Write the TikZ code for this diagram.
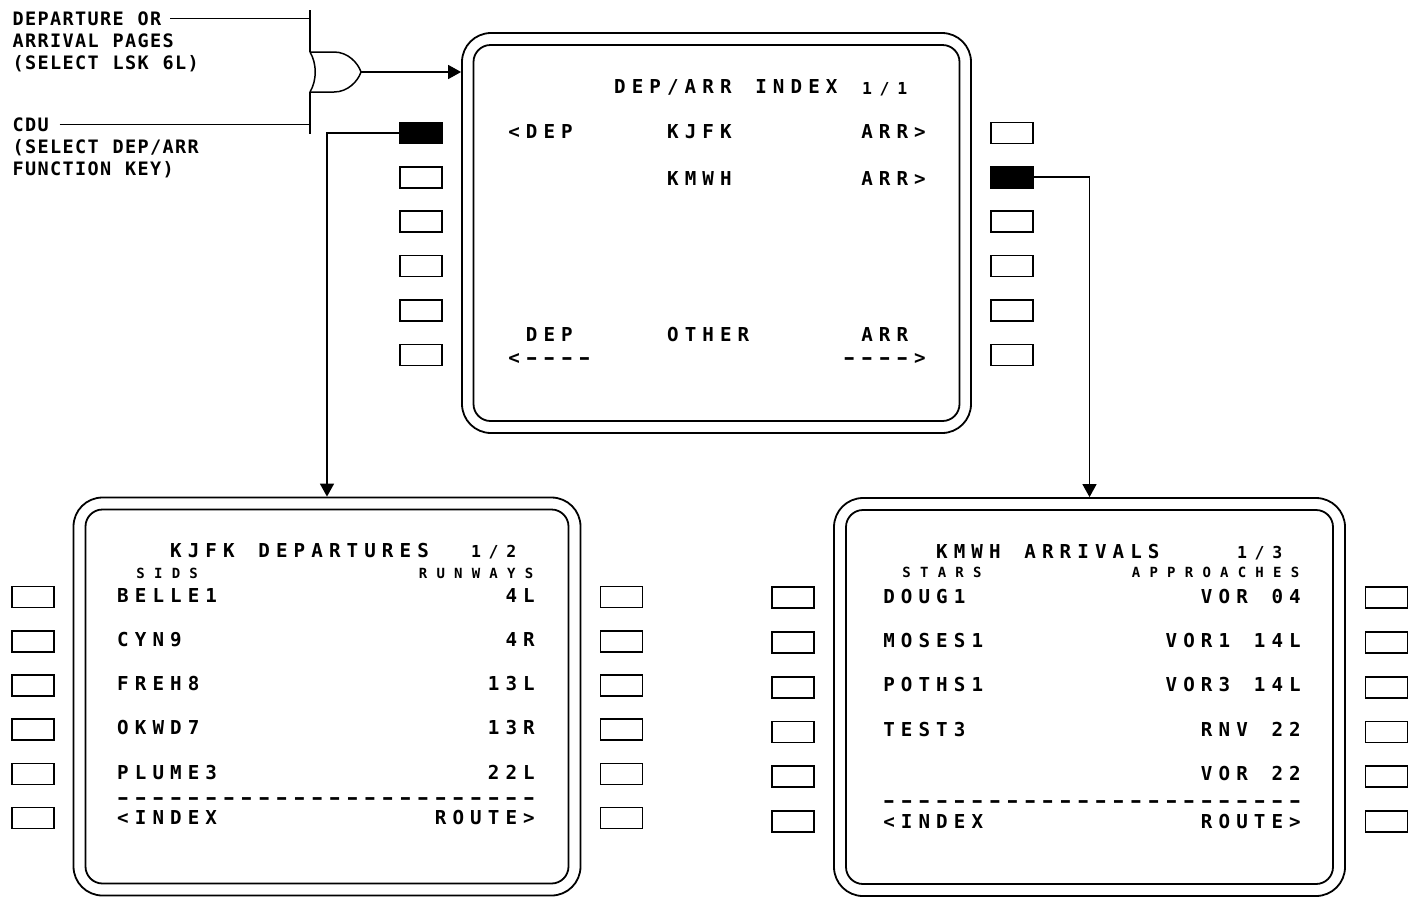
\documentclass[tikz,border=0pt]{standalone}
\usepackage{fontspec}
\usepackage{graphicx}
\newfontfamily\cdufont{DejaVu Sans Mono}
\usetikzlibrary{arrows.meta}
\newlength\cdupitch
\makeatletter
\def\cdustr#1{\cdu@loop#1\relax}
\def\cdu@loop#1{\ifx\relax#1\else\makebox[\cdupitch][c]{\ifx-#1\scalebox{1.5}[1]{-}\else#1\fi}\expandafter\cdu@loop\fi}
\makeatother
\tikzset{
  txt/.style={anchor=base west, inner sep=0pt, outer sep=0pt, font=\cdufont\bfseries\fontsize{19.2}{20}\selectfont\setlength\cdupitch{17.65pt}},
  smalltxt/.style={txt, font=\cdufont\bfseries\fontsize{14}{15}\selectfont\setlength\cdupitch{17.65pt}},
  pagetxt/.style={txt, font=\cdufont\bfseries\fontsize{16.5}{17}\selectfont\setlength\cdupitch{17.65pt}},
  lbl/.style={txt, font=\cdufont\bfseries\fontsize{18.5}{20}\selectfont\setlength\cdupitch{12.5pt}},
  lsk/.style={draw, line width=1.6pt, minimum width=42pt, minimum height=21pt, inner sep=0pt},
  lskon/.style={lsk, fill=black},
  outerscr/.style={draw, line width=1.8pt, rounded corners=29pt, inner sep=0pt},
  innerscr/.style={draw, line width=1.8pt, rounded corners=17pt, inner sep=0pt},
  wire/.style={line width=1.5pt},
  conn/.style={line width=1.5pt, -{Triangle[length=13pt,width=14pt]}},
}
\begin{document}
\begin{tikzpicture}[x=1pt,y=-1pt]
\useasboundingbox (0,0) rectangle (1410,898);
\fill[white] (0,0) rectangle (1410,898);

% ---------- screens ----------
\node[outerscr, minimum width=509pt, minimum height=400pt] (top) at (716.5,233) {};
\node[innerscr, minimum width=486pt, minimum height=376pt] (topin) at (716.5,233) {};
\node[outerscr, minimum width=507pt, minimum height=398pt] (bl) at (327,696.5) {};
\node[innerscr, minimum width=483pt, minimum height=374pt] (blin) at (327,696.5) {};
\node[outerscr, minimum width=511pt, minimum height=398pt] (br) at (1089.5,697) {};
\node[innerscr, minimum width=487pt, minimum height=374pt] (brin) at (1089.5,697) {};

% ---------- line select keys ----------
\node[lskon] (tl1) at (421,132.8) {};
\foreach \y [count=\i from 2] in {177.2,221.5,266,310.5,355}
  \node[lsk] (tl\i) at (421,\y) {};
\node[lsk] (tr1) at (1012,132.8) {};
\node[lskon] (tr2) at (1012,177.2) {};
\foreach \y [count=\i from 3] in {221.5,266,310.5,355}
  \node[lsk] (tr\i) at (1012,\y) {};
\foreach \y [count=\i] in {597,641.2,685.4,729.6,773.8,818} {
  \node[lsk] (bll\i) at (33,\y) {};
  \node[lsk] (blr\i) at (621.5,\y) {};
}
\foreach \y [count=\i] in {597.7,642.5,687.2,732,776.7,821.5} {
  \node[lsk] (brl\i) at (793,\y) {};
  \node[lsk] (brr\i) at (1386.5,\y) {};
}

% ---------- labels and OR gate ----------
\node[lbl] (l1) at (12,25) {\cdustr{DEPARTURE~OR}};
\node[lbl] (l2) at (12,47) {\cdustr{ARRIVAL~PAGES}};
\node[lbl] (l3) at (12,69) {\cdustr{(SELECT~LSK~6L)}};
\node[lbl] (l4) at (12,131) {\cdustr{CDU}};
\node[lbl] (l5) at (12,153) {\cdustr{(SELECT~DEP/ARR}};
\node[lbl] (l6) at (12,175) {\cdustr{FUNCTION~KEY)}};

\coordinate (vt) at (310,10);
\coordinate (gt) at (310,52);
\coordinate (gb) at (310,92);
\coordinate (vb) at (310,134);
\coordinate (go) at (361,72);
\draw[wire] (vt) -- (gt);
\draw[wire] (gb) -- (vb);
\draw[wire] (gt) .. controls (317,64) and (317,80) .. (gb);
\draw[wire] (gt) -- (334,52) .. controls (348,52) and (358,63) .. (go);
\draw[wire] (gb) -- (334,92) .. controls (348,92) and (358,81) .. (go);
\draw[wire] ([xshift=8pt]l1.east) -- (l1.east -| vt);
\draw[wire] ([xshift=10pt]l4.east) -- (l4.east -| vt);
\draw[conn] (go) -- (go -| top.west);

% ---------- connectors ----------
\draw[conn] (tl1.west) -| (bl.north);
\draw[conn] (tr2.east) -| (br.north);

% ---------- top screen text (col0 left = 505.2, pitch 17.65) ----------
\node[txt] (a1) at (611.1,93) {\cdustr{DEP/ARR~INDEX}};
\node[pagetxt] (a2) at (858.2,94) {\cdustr{1/1}};
\node[txt] (a3) at (505.2,138) {\cdustr{<DEP}};
\node[txt] (a4) at (664.05,138) {\cdustr{KJFK}};
\node[txt] (a5) at (858.2,138) {\cdustr{ARR>}};
\node[txt] (a6) at (664.05,185) {\cdustr{KMWH}};
\node[txt] (a7) at (858.2,185) {\cdustr{ARR>}};
\node[txt] (a8) at (522.85,341) {\cdustr{DEP}};
\node[txt] (a9) at (664.05,341) {\cdustr{OTHER}};
\node[txt] (a10) at (858.2,341) {\cdustr{ARR}};
\node[txt] (a11) at (505.2,364) {\cdustr{<----}};
\node[txt] (a12) at (840.55,364) {\cdustr{---->}};

% ---------- KJFK departures (col0 left = 114.2) ----------
\node[txt] (b1) at (167.15,557) {\cdustr{KJFK~DEPARTURES}};
\node[pagetxt] (b2) at (467.2,557) {\cdustr{1/2}};
\node[smalltxt] (b3) at (131.85,578) {\cdustr{SIDS}};
\node[smalltxt] (b4) at (414.25,578) {\cdustr{RUNWAYS}};
\node[txt] (b5) at (114.2,602) {\cdustr{BELLE1}};
\node[txt] (b6) at (502.5,602) {\cdustr{4L}};
\node[txt] (b7) at (114.2,646) {\cdustr{CYN9}};
\node[txt] (b8) at (502.5,646) {\cdustr{4R}};
\node[txt] (b9) at (114.2,690) {\cdustr{FREH8}};
\node[txt] (b10) at (484.85,690) {\cdustr{13L}};
\node[txt] (b11) at (114.2,734) {\cdustr{OKWD7}};
\node[txt] (b12) at (484.85,734) {\cdustr{13R}};
\node[txt] (b13) at (114.2,779) {\cdustr{PLUME3}};
\node[txt] (b14) at (484.85,779) {\cdustr{22L}};
\node[txt] (b15) at (114.2,804) {\cdustr{------------------------}};
\node[txt] (b16) at (114.2,824) {\cdustr{<INDEX}};
\node[txt] (b17) at (431.9,824) {\cdustr{ROUTE>}};

% ---------- KMWH arrivals (col0 left = 880.2) ----------
\node[txt] (c1) at (933.15,558) {\cdustr{KMWH~ARRIVALS}};
\node[pagetxt] (c2) at (1233.2,558) {\cdustr{1/3}};
\node[smalltxt] (c3) at (897.85,577) {\cdustr{STARS}};
\node[smalltxt] (c4) at (1127.3,577) {\cdustr{APPROACHES}};
\node[txt] (c5) at (880.2,603) {\cdustr{DOUG1}};
\node[txt] (c6) at (1197.9,603) {\cdustr{VOR~04}};
\node[txt] (c7) at (880.2,647) {\cdustr{MOSES1}};
\node[txt] (c8) at (1162.6,647) {\cdustr{VOR1~14L}};
\node[txt] (c9) at (880.2,691) {\cdustr{POTHS1}};
\node[txt] (c10) at (1162.6,691) {\cdustr{VOR3~14L}};
\node[txt] (c11) at (880.2,736) {\cdustr{TEST3}};
\node[txt] (c12) at (1197.9,736) {\cdustr{RNV~22}};
\node[txt] (c13) at (1197.9,780) {\cdustr{VOR~22}};
\node[txt] (c14) at (880.2,807) {\cdustr{------------------------}};
\node[txt] (c15) at (880.2,828) {\cdustr{<INDEX}};
\node[txt] (c16) at (1197.9,828) {\cdustr{ROUTE>}};
\end{tikzpicture}
\end{document}
